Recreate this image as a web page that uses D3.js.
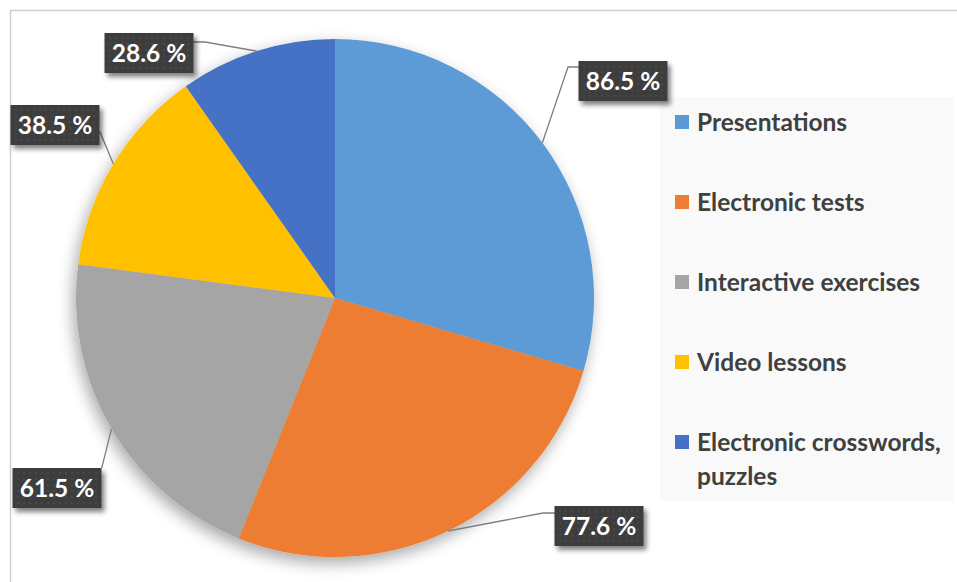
<!DOCTYPE html>
<html><head><meta charset="utf-8">
<script src="https://cdn.jsdelivr.net/npm/d3@7"></script>
<style>html,body{margin:0;padding:0;background:#fff;}svg{display:block;}</style>
</head><body>
<svg id="c" width="957" height="582"></svg>
<script>
const categories = ["Presentations","Electronic tests","Interactive exercises","Video lessons","Electronic crosswords, puzzles"];
const values = [86.5, 77.6, 61.5, 38.5, 28.6];
const colors = ["#5B9BD5","#ED7D31","#A5A5A5","#FFC000","#4472C4"];
const labelTexts = ["86.5 %","77.6 %","61.5 %","38.5 %","28.6 %"];
const legendLines = [["Presentations"],["Electronic tests"],["Interactive exercises"],["Video lessons"],["Electronic crosswords,","puzzles"]];
// label box centers (layout)
const labelPos = [[623,81],[599,526],[57,488],[55,125],[149,53]];
const leaderBends = [[568,67],[543,513],[102,467],[100,132],[205,42]];

const svg = d3.select("#c");
const defs = svg.append("defs");
const f = defs.append("filter").attr("id","sh").attr("x","-20%").attr("y","-20%").attr("width","140%").attr("height","140%");
f.append("feGaussianBlur").attr("in","SourceAlpha").attr("stdDeviation",8);
f.append("feOffset").attr("dx",-3).attr("dy",6).attr("result","o");
f.append("feComponentTransfer").append("feFuncA").attr("type","linear").attr("slope",0.35);
const m = f.append("feMerge"); m.append("feMergeNode"); m.append("feMergeNode").attr("in","SourceGraphic");
const f2 = defs.append("filter").attr("id","sh2").attr("x","-20%").attr("y","-30%").attr("width","150%").attr("height","170%");
f2.append("feGaussianBlur").attr("in","SourceAlpha").attr("stdDeviation",2.5);
f2.append("feOffset").attr("dx",3).attr("dy",4).attr("result","o");
f2.append("feComponentTransfer").append("feFuncA").attr("type","linear").attr("slope",0.5);
const m2 = f2.append("feMerge"); m2.append("feMergeNode"); m2.append("feMergeNode").attr("in","SourceGraphic");
const pat = defs.append("pattern").attr("id","dots").attr("width",6).attr("height",6).attr("patternUnits","userSpaceOnUse");
pat.append("rect").attr("width",6).attr("height",6).attr("fill","#3d3d3d");
pat.append("circle").attr("cx",3).attr("cy",3).attr("r",0.8).attr("fill","#555");

// frame
svg.append("path").attr("d","M10.5,600 V10.5 H960").attr("fill","none").attr("stroke","#d0d0d0").attr("stroke-width",1.5);

// legend bg
svg.append("rect").attr("x",660).attr("y",97).attr("width",293).attr("height",404).attr("fill","#f9f9f9");

const cx = 335, cy = 298, r = 259;
const pie = d3.pie().sort(null).value(d=>d)(values);
const arc = d3.arc().innerRadius(0).outerRadius(r);
const g = svg.append("g").attr("transform",`translate(${cx},${cy})`);
g.append("g").attr("filter","url(#sh)").selectAll("path").data(pie).join("path")
  .attr("d",arc).attr("fill",(d,i)=>colors[i]);

// leader lines
const outer = d3.arc().innerRadius(r).outerRadius(r);
pie.forEach((d,i)=>{
  const [px,py] = outer.centroid(d);
  const edgeX = cx+px, edgeY = cy+py;
  const lp = labelPos[i], b = leaderBends[i];
  const boxEdgeX = lp[0] < edgeX ? lp[0]+44 : lp[0]-44;
  svg.append("path").attr("d",`M${edgeX},${edgeY} L${b[0]},${b[1]} L${boxEdgeX},${b[1]}`)
    .attr("fill","none").attr("stroke","#7f7f7f").attr("stroke-width",1.3);
});

// labels
labelTexts.forEach((t,i)=>{
  const [x,y] = labelPos[i];
  const lg = svg.append("g").attr("transform",`translate(${x},${y})`);
  lg.append("rect").attr("x",-44.5).attr("y",-20).attr("width",89).attr("height",40)
    .attr("fill","url(#dots)").attr("filter","url(#sh2)");
  lg.append("text").attr("text-anchor","middle").attr("dy","0.36em")
    .attr("font-family","Lato, 'Open Sans', sans-serif").attr("font-weight","bold").attr("font-size",24.5)
    .attr("fill","#fff").text(t);
});

// legend
const rowY = [122,202,282,362,442];
categories.forEach((c,i)=>{
  const y = rowY[i];
  svg.append("rect").attr("x",675).attr("y",y-7).attr("width",14).attr("height",14).attr("fill",colors[i]);
  const tx = svg.append("text").attr("x",697).attr("y",y).attr("dy","0.35em")
    .attr("font-family","Lato, 'Open Sans', sans-serif").attr("font-weight","bold").attr("font-size",24.5).attr("fill","#404040");
  legendLines[i].forEach((l,j)=>tx.append("tspan").attr("x",697).attr("dy", j===0?"0.35em":"1.4em").text(l));
});
</script>
</body></html>
